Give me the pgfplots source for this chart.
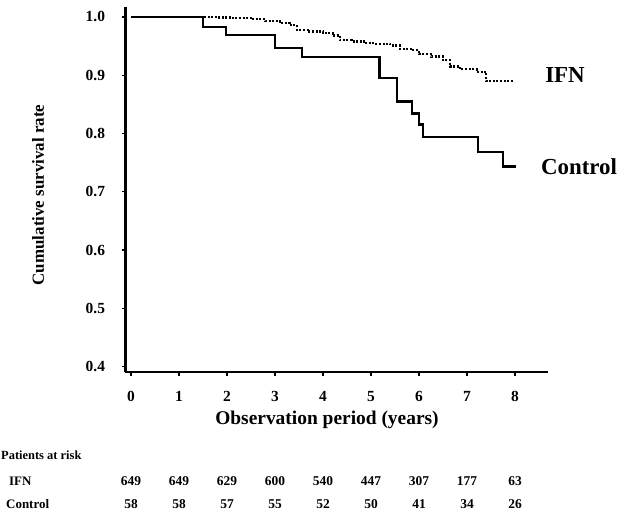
\documentclass[border=0pt]{standalone}
\usepackage{pgfplots}
\pgfplotsset{compat=1.18}
\usepackage{fontspec}
\setmainfont{Liberation Serif}
\begin{document}
\begin{tikzpicture}
\begin{axis}[
  at={(125bp,-372bp)}, anchor=south west,
  scale only axis, width=423bp, height=365bp,
  xmin=-0.125, xmax=8.6875, ymin=0.391, ymax=1.017,
  axis x line*=bottom, axis y line*=left,
  x axis line style={line width=2bp,-},
  y axis line style={line width=3bp,-},
  xtick={0,1,2,3,4,5,6,7,8},
  xticklabels={0,1,2,3,4,5,6,7,8},
  ytick={0.4,0.5,0.6,0.7,0.8,0.9,1.0},
  yticklabels={0.4,0.5,0.6,0.7,0.8,0.9,1.0},
  tick align=outside, major tick length=3.5bp,
  tick style={line width=1.3bp,black},
  xticklabel style={font=\bfseries\fontsize{15.5}{15.5}\selectfont, yshift=-12bp},
  yticklabel style={font=\bfseries\fontsize{15.5}{15.5}\selectfont, xshift=-13bp},
  clip=false,
]
% IFN (dotted)
\addplot[const plot, black, line width=2.2bp, dash pattern=on 2bp off 1.6bp] coordinates {
(1.45,1.0) (1.8,0.999) (2.1,0.998) (2.5,0.996) (2.8,0.993) (3.1,0.990)
(3.3,0.986) (3.45,0.978) (3.7,0.975) (4.0,0.972) (4.2,0.968) (4.35,0.960)
(4.6,0.958) (4.85,0.955) (5.1,0.954) (5.4,0.951) (5.6,0.945) (5.85,0.943)
(6.0,0.936) (6.25,0.932) (6.5,0.926) (6.65,0.915) (6.85,0.910) (7.2,0.906)
(7.4,0.890) (7.95,0.890)
};
% Control (solid)
\addplot[const plot, black, line width=2.6bp] coordinates {
(0,1.0) (1.5,0.983) (1.98,0.969) (3.0,0.947) (3.56,0.931) (5.18,0.895)
(5.54,0.855) (5.85,0.834) (6.0,0.815) (6.08,0.794) (7.23,0.768) (7.75,0.743)
(8.02,0.743)
};
\end{axis}
\begin{scope}[font=\bfseries]
\node[font=\bfseries\fontsize{19.5}{19.5}\selectfont] at (327bp,-420bp) {Observation period (years)};
\node[rotate=90,font=\bfseries\fontsize{17}{17}\selectfont] at (38bp,-195bp) {Cumulative survival rate};
\node[font=\bfseries\fontsize{23}{23}\selectfont] at (565bp,-75bp) {IFN};
\node[font=\bfseries\fontsize{23}{23}\selectfont] at (579bp,-167bp) {Control};
\node[anchor=base west,inner sep=0pt,font=\bfseries\fontsize{12.5}{12.5}\selectfont] at (1bp,-459bp) {Patients at risk};
\node[anchor=base west,inner sep=0pt,font=\bfseries\fontsize{13}{13}\selectfont] at (9bp,-485bp) {IFN};
\node[anchor=base west,inner sep=0pt,font=\bfseries\fontsize{13}{13}\selectfont] at (6bp,-508bp) {Control};
\foreach \v [count=\i from 0] in {649,649,629,600,540,447,307,177,63}
  \node[anchor=base,inner sep=0pt,font=\bfseries\fontsize{13.5}{13.5}\selectfont] at ({131bp+48bp*\i},-485bp) {\v};
\foreach \v [count=\i from 0] in {58,58,57,55,52,50,41,34,26}
  \node[anchor=base,inner sep=0pt,font=\bfseries\fontsize{13.5}{13.5}\selectfont] at ({131bp+48bp*\i},-508bp) {\v};
\end{scope}
\pgfresetboundingbox
\path[use as bounding box] (0bp,0bp) rectangle (635bp,-515bp);
\end{tikzpicture}
\end{document}
